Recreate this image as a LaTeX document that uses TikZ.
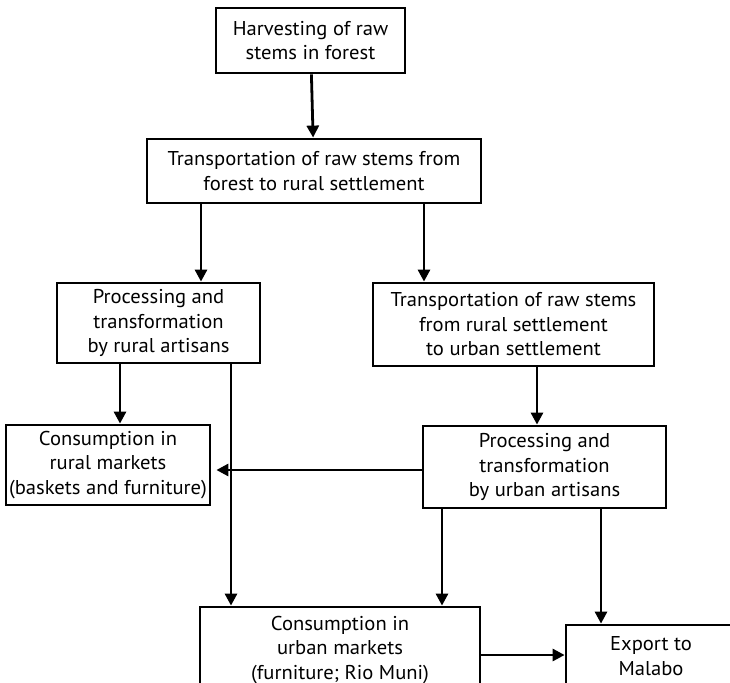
\documentclass[tikz,border=0pt]{standalone}
\usepackage{fontspec}
\setmainfont[FakeStretch=1.03]{PT Sans}
\usepackage{tikz}
\usetikzlibrary{calc,arrows.meta}

\begin{document}
\begin{tikzpicture}[x=1pt,y=-1pt,
		box/.style={draw,line width=2.8pt,align=center,inner sep=0pt,
			font=\fontsize{20}{24.5}\selectfont},
		arr/.style={line width=2.8pt,-{Triangle[length=12pt,width=12pt]}}]
		\useasboundingbox (0,0) rectangle (730,682);
		\clip (0,0) rectangle (730,682);
		% boxes
		\node[box,minimum width=189,minimum height=65] (H) at (310.5,40.5) {Harvesting of raw\\stems in forest};
		\node[box,minimum width=334,minimum height=64] (T1) at (314,171) {Transportation of raw stems from\\forest to rural settlement};
		\node[box,minimum width=203,minimum height=80] (RP) at (158.5,323) {Processing and\\transformation\\by rural artisans};
		\node[box,minimum width=281,minimum height=83] (TU) at (513.5,324.5) {Transportation of raw stems\\from rural settlement\\to urban settlement};
		\node[box,minimum width=204,minimum height=80] (RC) at (108,465) {Consumption in\\rural markets\\(baskets and furniture)};
		\node[box,minimum width=243,minimum height=82] (UP) at (544.5,467) {Processing and\\transformation\\by urban artisans};
		\node[box,minimum width=280,minimum height=86] (UC) at (340,650) {Consumption in\\urban markets\\(furniture; Rio Muni)};
		\node[box,minimum width=170,minimum height=62] (EX) at (651,656) {Export to\\Malabo};
		
		% columns and rows of the connectors
		\coordinate (cA) at (201,0);
		\coordinate (cB) at (424,0);
		\coordinate (cC) at (120,0);
		\coordinate (cD) at (231,0);
		\coordinate (cE) at (537,0);
		\coordinate (cF) at (442,0);
		\coordinate (cG) at (601,0);
		\coordinate (rA) at (0,470);
		\coordinate (rB) at (0,655);
		
		\draw[arr] (H) -- (T1);
		\draw[arr] (T1.south -| cA) -- (RP.north -| cA);
		\draw[arr] (T1.south -| cB) -- (TU.north -| cB);
		\draw[arr] (RP.south -| cC) -- (RC.north -| cC);
		\draw[arr] (RP.south -| cD) -- (UC.north -| cD);
		\draw[arr] (TU.south -| cE) -- (UP.north -| cE);
		\draw[arr,shorten >=5pt] (UP.west |- rA) -- (RC.east |- rA);
		\draw[arr] (UP.south -| cF) -- (UC.north -| cF);
		\draw[arr] (UP.south -| cG) -- (EX.north -| cG);
		\draw[arr] (UC.east |- rB) -- (EX.west |- rB);
		\end{tikzpicture}
\end{document}
